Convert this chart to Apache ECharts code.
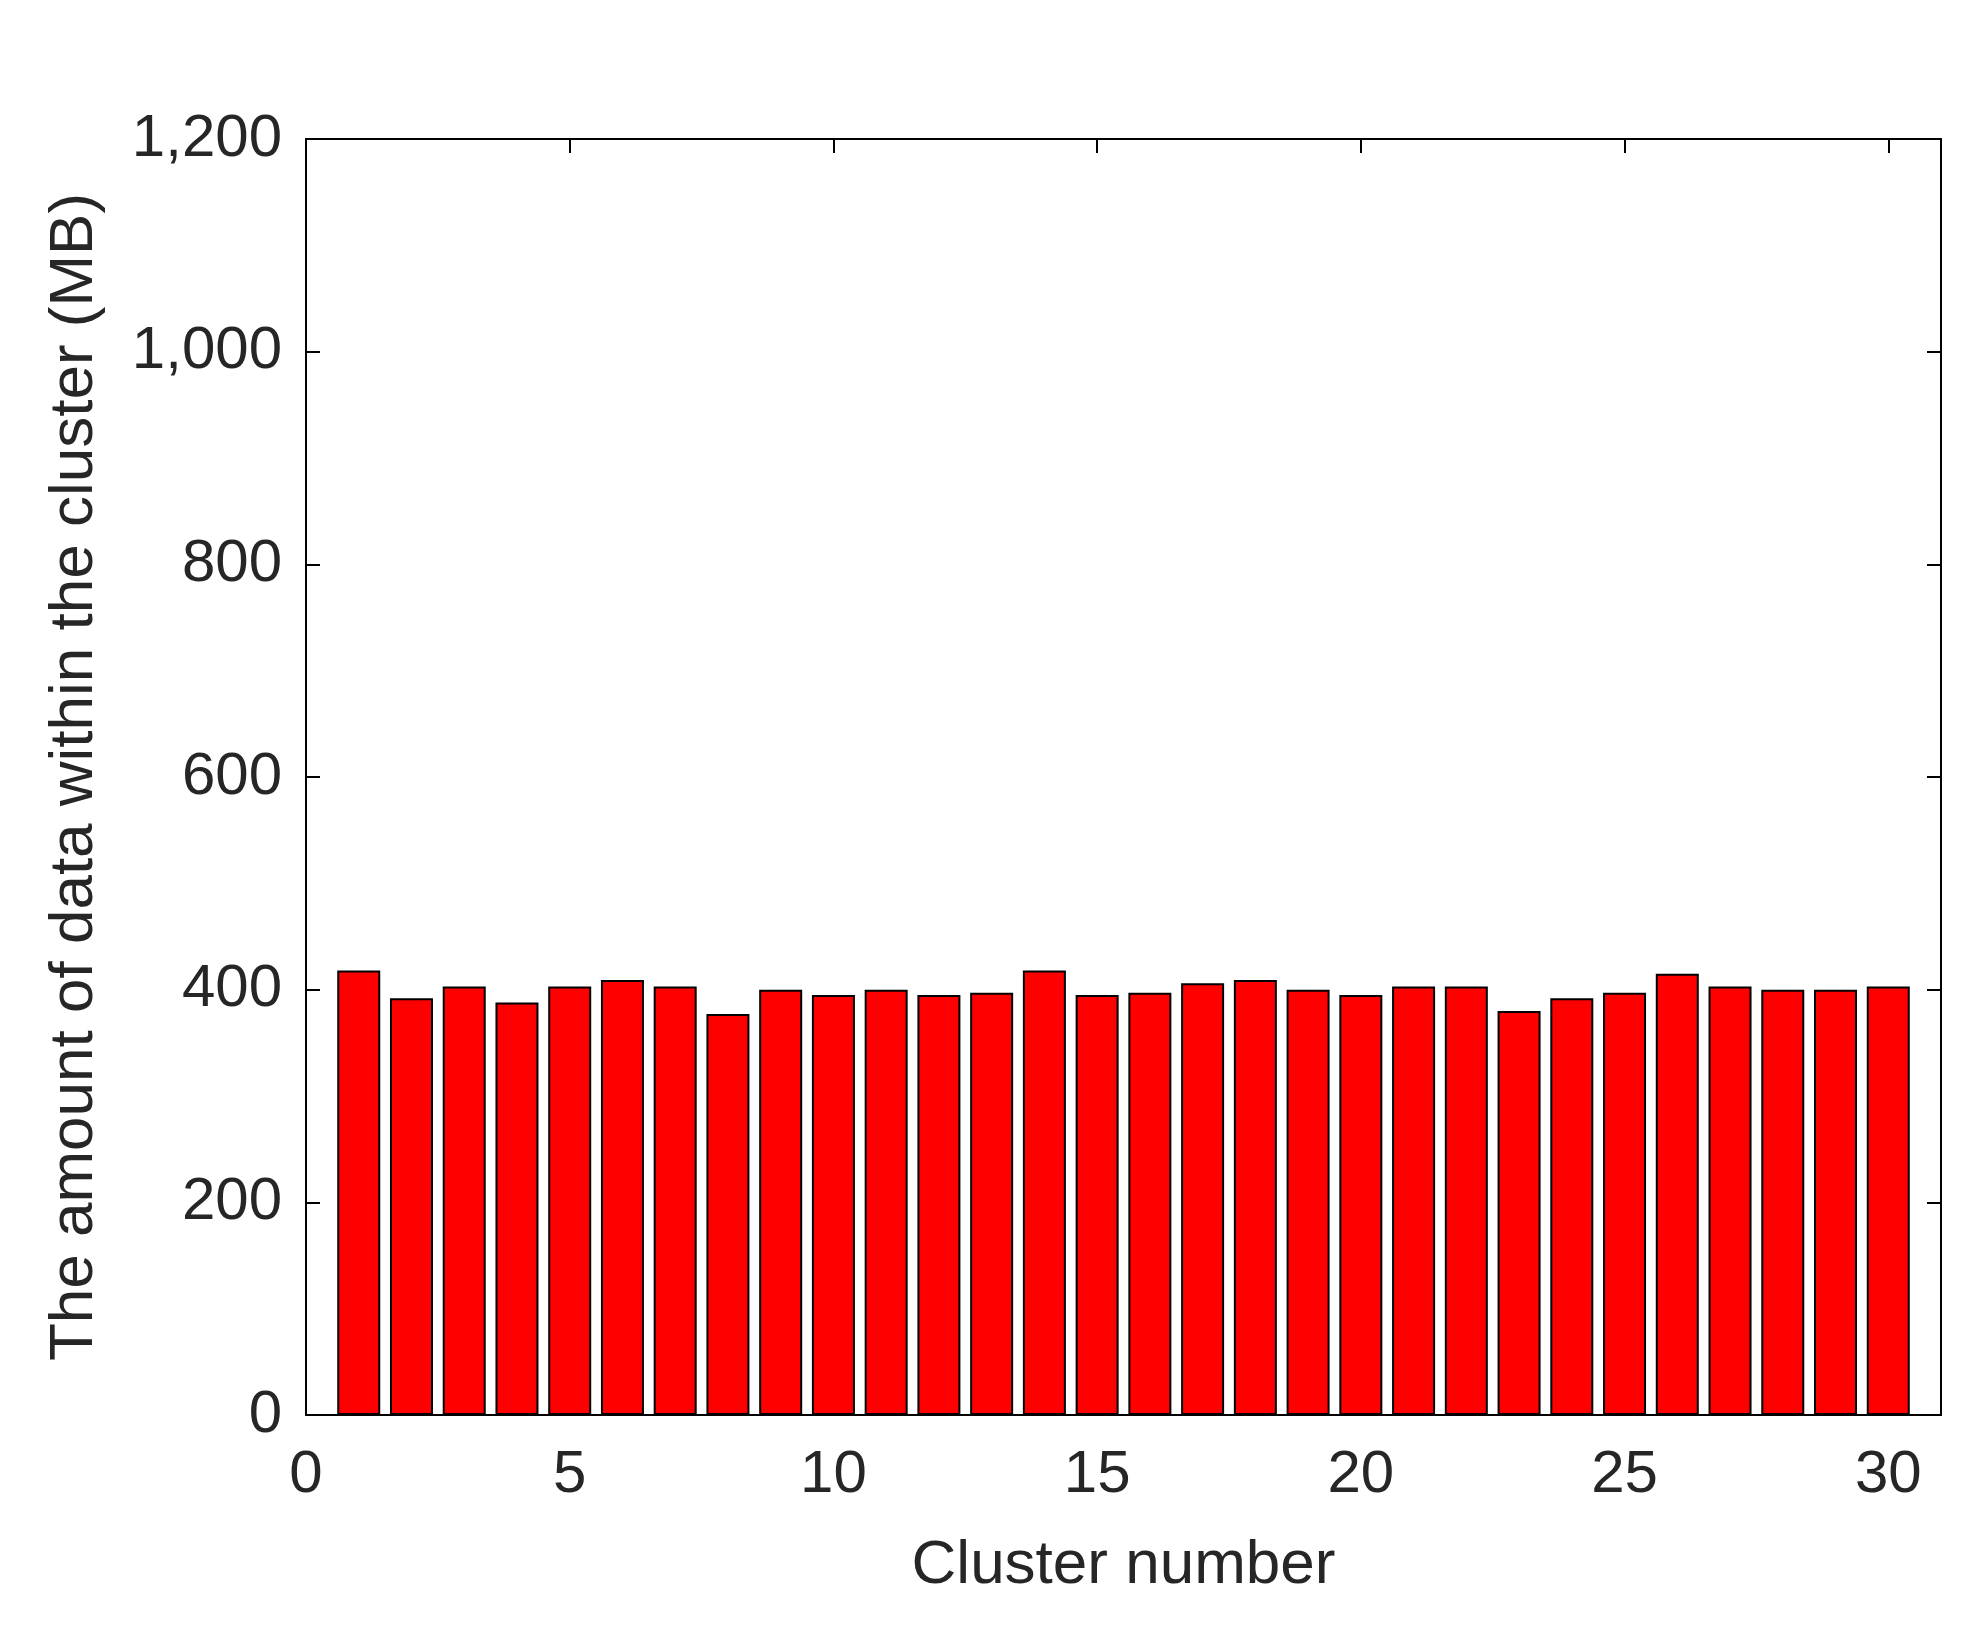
<!DOCTYPE html>
<html><head><meta charset="utf-8">
<script src="https://cdn.jsdelivr.net/npm/echarts@6/dist/echarts.min.js"></script>
<style>html,body{margin:0;background:#fff}#c{width:1976px;height:1634px}</style>
</head><body><div id="c"></div>
<script>
const clusters = [1,2,3,4,5,6,7,8,9,10,11,12,13,14,15,16,17,18,19,20,21,22,23,24,25,26,27,28,29,30];
const amounts = [418,392,403,388,403,409,403,377,400,395,400,395,397,418,395,397,406,409,400,395,403,403,380,392,397,415,403,400,400,403];
const xTicks = [0,5,10,15,20,25,30];
const chart = echarts.init(document.getElementById('c'));
const font = 'Arial, "Liberation Sans", sans-serif';
const axisCommon = {
  axisLine:{show:true,onZero:false,lineStyle:{color:'#000',width:2}},
  axisTick:{show:true,inside:true,length:14,lineStyle:{color:'#000',width:2}},
  splitLine:{show:false}
};
chart.setOption({
  animation:false,
  grid:{left:306,right:35,top:139,bottom:219},
  xAxis:[
    Object.assign({type:'value',min:0,max:31,interval:5,name:'Cluster number',nameLocation:'middle',nameGap:120,
      nameTextStyle:{fontSize:62,color:'#262626',fontFamily:font},
      axisLabel:{fontSize:60,color:'#262626',fontFamily:font,margin:30,formatter:v=>xTicks.includes(v)?String(v):''}},axisCommon),
    Object.assign({type:'value',position:'top',min:0,max:31,interval:5,axisLabel:{show:false}},axisCommon)
  ],
  yAxis:[
    Object.assign({type:'value',min:0,max:1200,interval:200,name:'The amount of data within the cluster (MB)',nameLocation:'middle',nameGap:200,
      nameTextStyle:{fontSize:62,color:'#262626',fontFamily:font},
      axisLabel:{fontSize:60,color:'#262626',fontFamily:font,margin:24}},axisCommon),
    Object.assign({type:'value',position:'right',min:0,max:1200,interval:200,axisLabel:{show:false}},axisCommon)
  ],
  series:[{type:'bar',xAxisIndex:0,yAxisIndex:0,barWidth:43,
    data:clusters.map((c,i)=>[c,amounts[i]]),
    itemStyle:{color:'#ff0000',borderColor:'#000',borderWidth:2}}]
});
</script></body></html>
